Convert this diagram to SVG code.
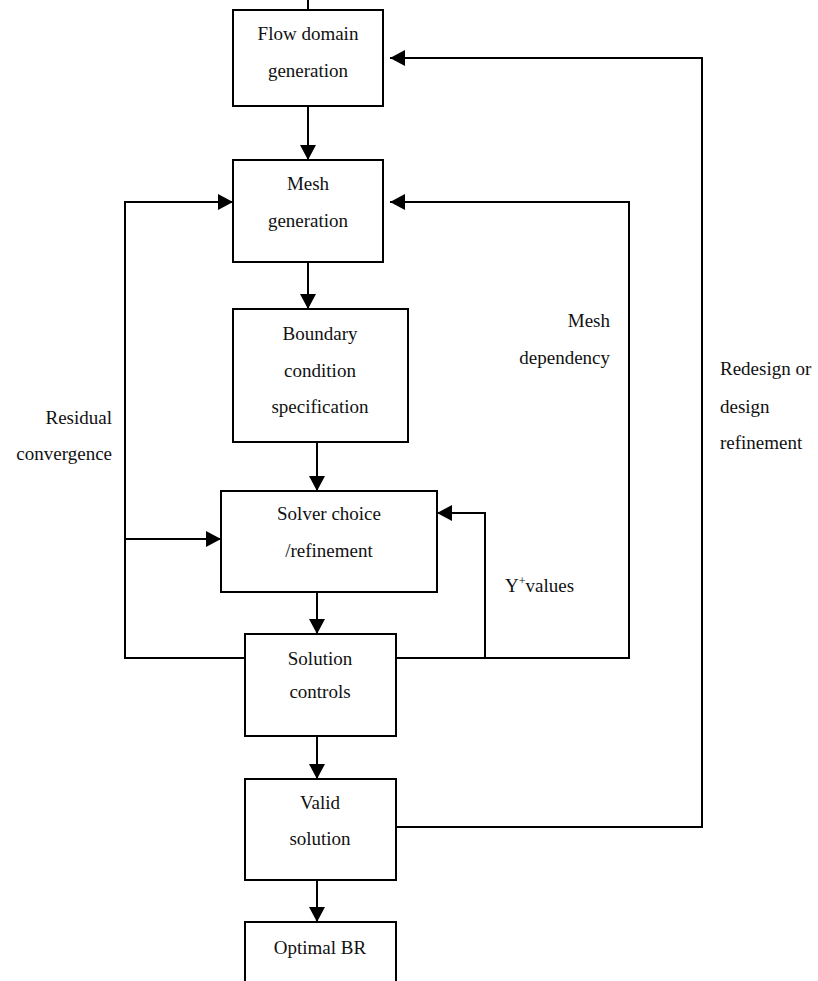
<svg xmlns="http://www.w3.org/2000/svg" width="818" height="981" viewBox="0 0 818 981">
<style>
.box{fill:#fff;stroke:#000;stroke-width:2}
.c{fill:none;stroke:#000;stroke-width:2}
text{font-family:"Liberation Serif","Times New Roman",serif;font-size:19px;fill:#111}
.m{text-anchor:middle}
.e{text-anchor:end}
</style>
<defs>
<marker id="ah" markerUnits="userSpaceOnUse" markerWidth="16" markerHeight="16" refX="15" refY="8" orient="auto">
<path d="M0,0 L15,8 L0,16 z" fill="#000"/>
</marker>
</defs>
<rect width="818" height="981" fill="#fff"/>
<g id="connectors">
<line class="c" x1="308" y1="0" x2="308" y2="10"/>
<line class="c" x1="308" y1="106" x2="308" y2="160" marker-end="url(#ah)"/>
<line class="c" x1="308" y1="262" x2="308" y2="309" marker-end="url(#ah)"/>
<line class="c" x1="317" y1="442" x2="317" y2="491" marker-end="url(#ah)"/>
<line class="c" x1="317" y1="592" x2="317" y2="634" marker-end="url(#ah)"/>
<line class="c" x1="317" y1="736" x2="317" y2="779" marker-end="url(#ah)"/>
<line class="c" x1="317" y1="880" x2="317" y2="922" marker-end="url(#ah)"/>
<polyline class="c" points="245,658 125,658 125,202 233,202" marker-end="url(#ah)"/>
<line class="c" x1="125" y1="539" x2="221" y2="539" marker-end="url(#ah)"/>
<polyline class="c" points="396,658 629,658 629,202 390,202" marker-end="url(#ah)"/>
<polyline class="c" points="485,658 485,513 437,513" marker-end="url(#ah)"/>
<polyline class="c" points="396,827 702,827 702,58 390,58" marker-end="url(#ah)"/>
</g>
<g id="flow-domain">
<rect class="box" x="233" y="10" width="150" height="96"/>
<text class="m" x="308" y="40">Flow domain</text>
<text class="m" x="308" y="77">generation</text>
</g>
<g id="mesh-generation">
<rect class="box" x="233" y="160" width="150" height="102"/>
<text class="m" x="308" y="190">Mesh</text>
<text class="m" x="308" y="227">generation</text>
</g>
<g id="boundary-condition">
<rect class="box" x="233" y="309" width="175" height="133"/>
<text class="m" x="320" y="340">Boundary</text>
<text class="m" x="320" y="377">condition</text>
<text class="m" x="320" y="413">specification</text>
</g>
<g id="solver-choice">
<rect class="box" x="221" y="491" width="216" height="101"/>
<text class="m" x="329" y="520">Solver choice</text>
<text class="m" x="329" y="557">/refinement</text>
</g>
<g id="solution-controls">
<rect class="box" x="245" y="634" width="151" height="102"/>
<text class="m" x="320" y="665">Solution</text>
<text class="m" x="320" y="698">controls</text>
</g>
<g id="valid-solution">
<rect class="box" x="245" y="779" width="151" height="101"/>
<text class="m" x="320" y="809">Valid</text>
<text class="m" x="320" y="845">solution</text>
</g>
<g id="optimal-br">
<rect class="box" x="245" y="922" width="151" height="70"/>
<text class="m" x="320" y="954">Optimal BR</text>
</g>
<g id="labels">
<text class="e" x="112" y="424">Residual</text>
<text class="e" x="112" y="460">convergence</text>
<text class="e" x="610" y="327">Mesh</text>
<text class="e" x="610" y="364">dependency</text>
<text x="720" y="375">Redesign or</text>
<text x="720" y="413">design</text>
<text x="720" y="449">refinement</text>
<text x="505" y="592">Y<tspan font-size="12" dy="-7">+</tspan><tspan dy="7">values</tspan></text>
</g>
</svg>
